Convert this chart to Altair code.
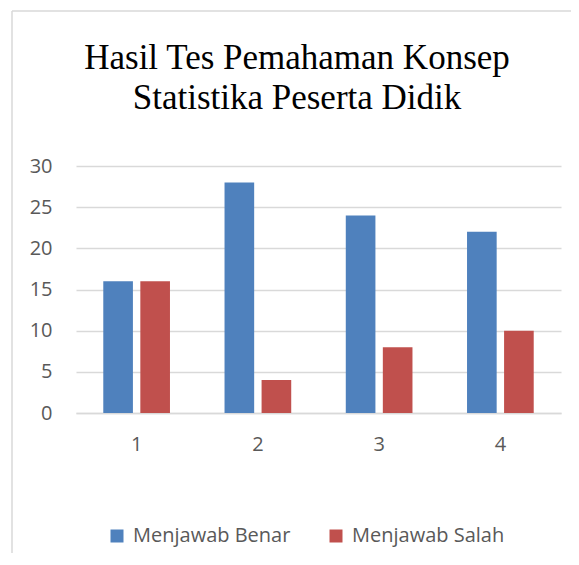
import altair as alt
import pandas as pd

categories = ["1", "2", "3", "4"]
benar = [16, 28, 24, 22]
salah = [16, 4, 8, 10]
series = ["Menjawab Benar", "Menjawab Salah"]
colors = ["#4F81BD", "#C0504D"]
title_lines = ["Hasil Tes Pemahaman Konsep", "Statistika Peserta Didik"]

rows = []
for c, b, s in zip(categories, benar, salah):
    rows.append({"cat": c, "series": series[0], "value": b})
    rows.append({"cat": c, "series": series[1], "value": s})
df = pd.DataFrame(rows)

W, H = 485, 247

bars = alt.Chart(df).mark_bar().encode(
    x=alt.X("cat:N", title=None, sort=categories,
            scale=alt.Scale(paddingInner=0.45, paddingOuter=0.225),
            axis=alt.Axis(labelAngle=0, labelFont="Open Sans", labelFontSize=20,
                          labelColor="#595959", labelPadding=21, ticks=False,
                          domainColor="#D9D9D9", domainWidth=1.5, grid=False)),
    xOffset=alt.XOffset("series:N", sort=series,
                        scale=alt.Scale(paddingInner=0.2)),
    y=alt.Y("value:Q", title=None,
            scale=alt.Scale(domain=[0, 30]),
            axis=alt.Axis(values=[0, 5, 10, 15, 20, 25, 30], labelFont="Open Sans",
                          labelFontSize=20, labelColor="#595959", labelPadding=24,
                          ticks=False, domain=False, gridColor="#D9D9D9",
                          gridWidth=1.5)),
    color=alt.Color("series:N", sort=series,
                    scale=alt.Scale(domain=series, range=colors),
                    legend=alt.Legend(title=None, orient="none", direction="horizontal",
                                      legendX=31, legendY=360,
                                      symbolType="square", symbolSize=169,
                                      symbolStrokeWidth=0,
                                      labelFont="Open Sans", labelFontSize=20,
                                      labelColor="#595959", labelOffset=6,
                                      columnPadding=35)),
)

frame_df = pd.DataFrame({"k": [0]})
left_border = alt.Chart(frame_df).mark_rule(color="#D9D9D9", strokeWidth=1.5).encode(
    x=alt.value(-64), y=alt.value(-155), y2=alt.value(400))
top_border = alt.Chart(frame_df).mark_rule(color="#D9D9D9", strokeWidth=1.5).encode(
    x=alt.value(-64), x2=alt.value(520), y=alt.value(-155))

title_df1 = pd.DataFrame({"t": [title_lines[0]]})
title_df2 = pd.DataFrame({"t": [title_lines[1]]})
title1 = alt.Chart(title_df1).mark_text(
    font="Liberation Serif", fontSize=35, color="#000000", align="center",
    baseline="alphabetic").encode(text="t:N", x=alt.value(221), y=alt.value(-97))
title2 = alt.Chart(title_df2).mark_text(
    font="Liberation Serif", fontSize=35, color="#000000", align="center",
    baseline="alphabetic").encode(text="t:N", x=alt.value(221), y=alt.value(-57))

chart = alt.layer(bars, left_border, top_border, title1, title2).properties(
    width=W, height=H,
    autosize=alt.AutoSizeParams(type="none"),
    padding={"left": 68, "top": 158, "right": 10, "bottom": 140},
).configure_view(stroke=None)

chart.save("out.html", embed_options={"renderer": "svg", "actions": False})
